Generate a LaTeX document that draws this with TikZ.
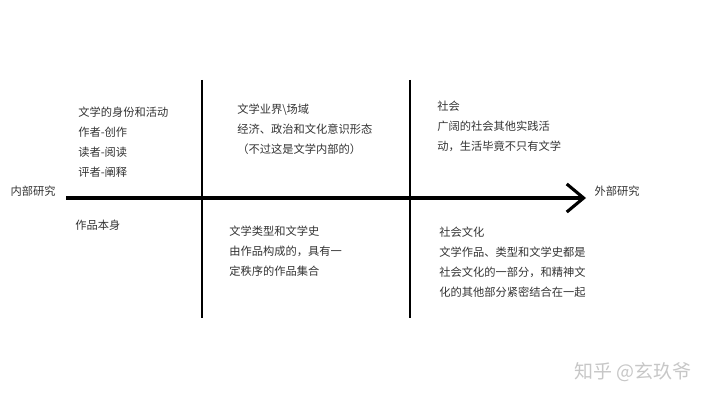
\documentclass[tikz,border=0pt]{standalone}
\usepackage{fontspec}
\setmainfont{Noto Sans CJK SC}
\usetikzlibrary{arrows.meta}

\tikzset{
    note/.style={anchor=north west, align=left, inner sep=0pt, text=black!80,
        font=\fontsize{8}{14.2}\selectfont},
    side/.style={inner sep=0pt, text=black!80, font=\fontsize{8}{10}\selectfont},
    axis/.style={line width=2.6pt, -{Straight Barb[length=12pt, width=20pt, line width=2.2pt]}},
    split/.style={line width=2pt},
}

\begin{document}
\begin{tikzpicture}[x=0.025cm, y=-0.025cm]
    \useasboundingbox (0,0) rectangle (720,405);

    % axis
    \node[side] (inner) at (33,191) {内部研究};
    \node[side] (outer) at (617,191) {外部研究};
    \coordinate (start) at (66,198);
    \coordinate (tip)   at (586,198);
    \draw[axis] (start) -- (tip);

    % two dividers
    \foreach \n/\x in {one/202, two/410}
    {
        \coordinate (\n top) at (\x,80);
        \coordinate (\n bot) at (\x,318);
        \draw[split] (\n top) -- (\n bot);
    }

    % above the axis
    \node[note] (role) at (78,107) {文学的身份和活动\\作者-创作\\读者-阅读\\评者-阐释};
    \node[note] (field) at (237,104) {文学业界\textbackslash 场域\\经济、政治和文化意识形态\\（不过这是文学内部的）};
    \node[note] (society) at (437,101) {社会\\广阔的社会其他实践活\\动，生活毕竟不只有文学};

    % below the axis
    \node[note] (work) at (75,220) {作品本身};
    \node[note] (genre) at (229,226) {文学类型和文学史\\由作品构成的，具有一\\定秩序的作品集合};
    \node[note] (culture) at (439,227) {社会文化\\文学作品、类型和文学史都是\\社会文化的一部分，和精神文\\化的其他部分紧密结合在一起};

    % watermark
    \node[text=black!22, font=\fontsize{13.5}{15}\selectfont] (mark) at (633,372) {知乎 @玄玖爷};
\end{tikzpicture}
\end{document}
